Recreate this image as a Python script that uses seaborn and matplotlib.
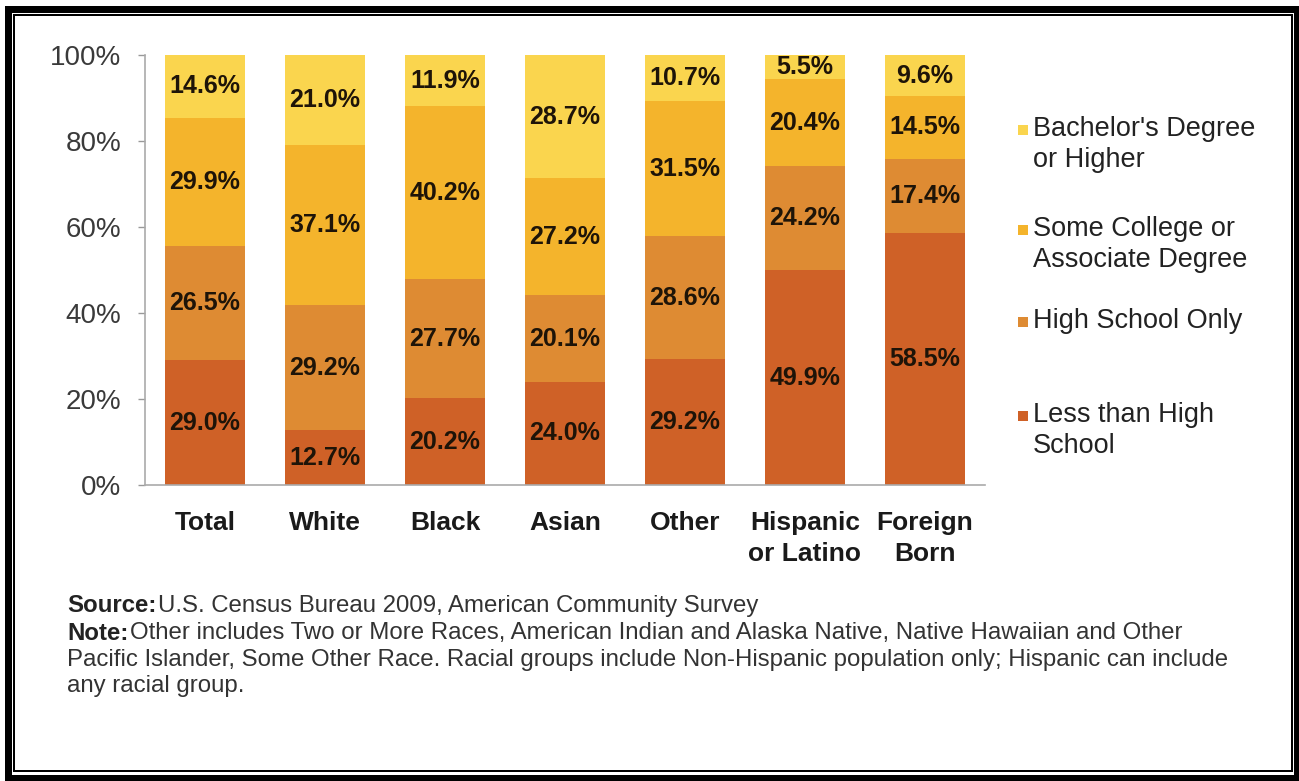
import numpy as np
import pandas as pd
import matplotlib
matplotlib.use("Agg")
import matplotlib.pyplot as plt
from matplotlib.patches import Rectangle
import seaborn as sns

categories = ["Total", "White", "Black", "Asian", "Other", "Hispanic\nor Latino", "Foreign\nBorn"]
less_than_hs = [29.0, 12.7, 20.2, 24.0, 29.2, 49.9, 58.5]
high_school = [26.5, 29.2, 27.7, 20.1, 28.6, 24.2, 17.4]
some_college = [29.9, 37.1, 40.2, 27.2, 31.5, 20.4, 14.5]
bachelors = [14.6, 21.0, 11.9, 28.7, 10.7, 5.5, 9.6]

series_names = ["Less than High\nSchool", "High School Only",
                "Some College or\nAssociate Degree", "Bachelor's Degree\nor Higher"]
series_values = [less_than_hs, high_school, some_college, bachelors]
series_colors = ["#CF6127", "#DE8B33", "#F4B42C", "#FAD54E"]
yticks = [0, 20, 40, 60, 80, 100]

sns.set_theme(style="white")
plt.rcParams["font.family"] = ["Liberation Sans", "DejaVu Sans"]

W, H = 1299, 781
fig = plt.figure(figsize=(W / 100, H / 100), dpi=100)
fig.patch.set_facecolor("white")
ax = fig.add_axes([145 / W, 1 - 485 / H, (985 - 145) / W, (485 - 55) / H])

df = pd.DataFrame({"category": categories})
cum = np.zeros(len(categories))
cums = []
for vals in series_values:
    cum = cum + np.array(vals)
    cums.append(cum.copy())

# draw stacked bars (tallest cumulative first, overlaying smaller ones)
for i in range(len(series_values) - 1, -1, -1):
    d = df.copy()
    d["value"] = cums[i]
    sns.barplot(data=d, x="category", y="value", color=series_colors[i],
                saturation=1, width=0.667, ax=ax, errorbar=None,
                edgecolor="none", linewidth=0)

# segment labels
for i, vals in enumerate(series_values):
    bottoms = cums[i] - np.array(vals)
    for j, v in enumerate(vals):
        ax.text(j, bottoms[j] + v / 2, f"{v:.1f}%", ha="center", va="center",
                fontsize=18, fontweight="bold", color="#1e1408")

ax.set_xlim(-0.5, 6.5)
ax.set_ylim(0, 100)
ax.set_yticks(yticks)
ax.set_yticklabels([f"{t}%" for t in yticks], fontsize=20, color="#3a3a3a")
ax.set_xticks(range(len(categories)))
ax.set_xticklabels(categories, fontsize=19, fontweight="bold", color="#1a1a1a",
                   linespacing=1.35)
ax.set_xticks(np.arange(-0.5, 7.0, 1.0), minor=True)
ax.tick_params(axis="x", which="major", length=0, pad=19)
ax.tick_params(axis="x", which="minor", length=5, color="#999999", width=1, direction="out")
ax.tick_params(axis="y", length=5, color="#999999", width=1, direction="out", left=True, pad=12)
ax.set_xlabel("")
ax.set_ylabel("")
for s in ["top", "right"]:
    ax.spines[s].set_visible(False)
for s in ["left", "bottom"]:
    ax.spines[s].set_color("#aaaaaa")
    ax.spines[s].set_linewidth(1.2)

# legend (manual, squares aligned with first text line)
leg_y = [130, 230, 322, 416]
order = [3, 2, 1, 0]
for y, idx in zip(leg_y, order):
    fig.patches.append(Rectangle((1018 / W, 1 - (y + 5) / H), 10 / W, 10 / H,
                                 transform=fig.transFigure, facecolor=series_colors[idx],
                                 edgecolor="none"))
    fig.text(1033 / W, 1 - (y - 14) / H, series_names[idx], fontsize=19.5, color="#222222",
             va="top", ha="left", linespacing=1.25)

# footer
fig.canvas.draw()
renderer = fig.canvas.get_renderer()
foot = [("Source:", "U.S. Census Bureau 2009, American Community Survey", 606),
        ("Note:", "Other includes Two or More Races, American Indian and Alaska Native, Native Hawaiian and Other", 633),
        ("", "Pacific Islander, Some Other Race. Racial groups include Non-Hispanic population only; Hispanic can include", 660),
        ("", "any racial group.", 686)]
for b, r, y in foot:
    x0 = 67
    if b:
        t = fig.text(x0 / W, 1 - y / H, b, fontsize=17.3, fontweight="bold", color="#222222",
                     va="center", ha="left")
        bb = t.get_window_extent(renderer)
        x0 = bb.x1 + 2
    fig.text(x0 / W, 1 - y / H, r, fontsize=17.3, color="#333333", va="center", ha="left")

# frame borders
def frame(l, t, r, b, lw_px):
    fig.patches.append(Rectangle((l / W, 1 - b / H), (r - l) / W, (b - t) / H,
                                 transform=fig.transFigure, fill=False, edgecolor="black",
                                 linewidth=lw_px * 0.72))
frame(7.5, 8.5, 1296.5, 778, 7)
frame(14, 15, 1292, 771, 2)

fig.savefig("out.png", dpi=100, facecolor="white")
